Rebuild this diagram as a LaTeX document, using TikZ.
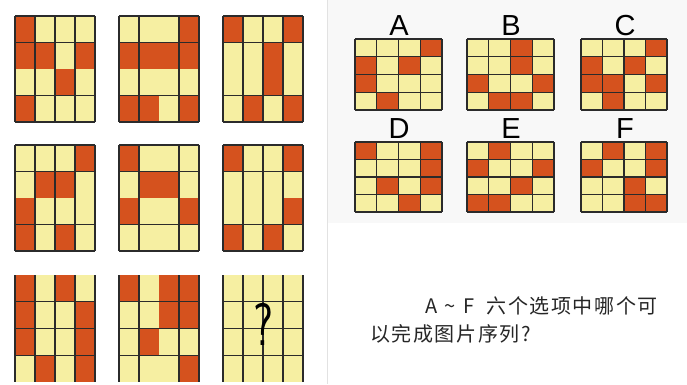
\documentclass[tikz,border=0pt]{standalone}
\usepackage{fontspec}
\newfontfamily\cjkfont[LetterSpace=8]{Noto Sans CJK SC}
\newfontfamily\labfont{Liberation Sans}
\definecolor{org}{HTML}{D5521E}
\definecolor{yel}{HTML}{F6EFA2}
\definecolor{gline}{HTML}{2B2B2B}
\definecolor{txt}{HTML}{262626}
\definecolor{panel}{HTML}{F8F8F8}
\definecolor{panelline}{HTML}{E2E2E2}
\tikzset{
  gridline/.style={draw=gline, line width=1.3pt},
  lab/.style={font=\labfont\fontsize{29}{29}\selectfont, text=black, inner sep=0pt},
  question/.style={font=\cjkfont\fontsize{20}{20}\selectfont, text=txt, inner sep=0pt},
}
\newcommand{\fillgrid}[5]{%
  \fill[yel] (#1,#2) rectangle ++({4*#3},{4*#4});
  \foreach \c/\r in {#5} {\fill[org] ({#1+\c*#3},{#2+\r*#4}) rectangle ++(#3,#4);}
}
\newcommand{\gridlines}[6]{%
  \foreach \v in {#5} {\draw[gridline] ({#1+\v*#3},#2) -- ++(0,{4*#4});}
  \foreach \h in {#6} {\draw[gridline] (#1,{#2+\h*#4}) -- ++({4*#3},0);}
}
\begin{document}
\begin{tikzpicture}[x=1pt,y=-1pt]
\useasboundingbox (0,0) rectangle (687,384);
\fill[white] (0,0) rectangle (687,384);
% options panel
\fill[panel] (327,0) rectangle (687,223);
\draw[panelline, line width=0.8pt] (327,0) -- (327,384);
% ---- left 3x3 puzzle ----
% row 1
\fillgrid{15}{16}{20}{26.5}{0/0,0/1,1/1,3/1,2/2,0/3}
\gridlines{15}{16}{20}{26.5}{0,1,2,3,4}{0,1,3,4}
\fillgrid{119}{16}{20}{26.5}{3/0,0/1,1/1,2/1,3/1,0/3,1/3,3/3}
\gridlines{119}{16}{20}{26.5}{0,1,3,4}{0,1,3,4}
\fillgrid{223}{16}{20}{26.5}{0/0,3/0,2/1,2/2,1/3,3/3}
\gridlines{223}{16}{20}{26.5}{0,1,2,3,4}{0,1,3,4}
% row 2
\fillgrid{15}{145}{20}{26.5}{3/0,1/1,2/1,0/2,0/3,2/3}
\gridlines{15}{145}{20}{26.5}{0,1,2,3,4}{0,1,3,4}
\fillgrid{119}{145}{20}{26.5}{0/0,1/1,2/1,0/2,3/2}
\gridlines{119}{145}{20}{26.5}{0,1,3,4}{0,1,3,4}
\fillgrid{223}{145}{20}{26.5}{0/0,3/0,3/2,0/3,2/3}
\gridlines{223}{145}{20}{26.5}{0,1,2,3,4}{0,1,3,4}
% row 3
\fillgrid{15}{275}{20}{26.75}{0/0,2/0,0/1,3/1,0/2,3/2,1/3,3/3}
\gridlines{15}{275}{20}{26.75}{0,1,2,3,4}{1,2,3}
\fillgrid{119}{275}{20}{26.75}{0/0,2/0,3/0,2/1,3/1,1/2,3/3}
\gridlines{119}{275}{20}{26.75}{0,1,3,4}{1,2,3}
\fill[yel] (223,275) rectangle ++(80,107);
\gridlines{223}{275}{20}{26.75}{0,1,2,3,4}{1,2,3}
\node[font=\sffamily\fontsize{60}{60}\selectfont, xscale=0.75, inner sep=0pt] (qmark) at (263,324) {?};
% ---- options ----
\fillgrid{355}{39}{21.75}{17.75}{3/0,0/1,2/1,0/2,1/3}
\gridlines{355}{39}{21.75}{17.75}{0,1,2,3,4}{0,1,2,3,4}
\fillgrid{467}{39}{21.75}{17.75}{2/0,2/1,0/2,3/2,1/3,2/3}
\gridlines{467}{39}{21.75}{17.75}{0,1,2,3,4}{0,1,2,3,4}
\fillgrid{581}{39}{21.5}{17.75}{3/0,0/1,2/1,0/2,1/2,3/2,1/3}
\gridlines{581}{39}{21.5}{17.75}{0,1,2,3,4}{0,1,2,3,4}
\fillgrid{355}{142}{21.75}{17.5}{0/0,3/0,3/1,1/2,3/2,2/3}
\gridlines{355}{142}{21.75}{17.5}{0,1,2,3,4}{0,1,2,3,4}
\fillgrid{467}{142}{21.75}{17.5}{1/0,0/1,3/1,2/2,0/3,1/3}
\gridlines{467}{142}{21.75}{17.5}{0,1,2,3,4}{0,1,2,3,4}
\fillgrid{581}{142}{21.5}{17.5}{1/0,3/0,0/1,3/1,2/2,2/3,3/3}
\gridlines{581}{142}{21.5}{17.5}{0,1,2,3,4}{0,1,2,3,4}
\node[lab, anchor=base] (labA) at (399,35) {A};
\node[lab, anchor=base] (labB) at (511,35) {B};
\node[lab, anchor=base] (labC) at (625,35) {C};
\node[lab, anchor=base] (labD) at (399,138) {D};
\node[lab, anchor=base] (labE) at (511,138) {E};
\node[lab, anchor=base] (labF) at (625,138) {F};
% ---- question text ----
\node[question, anchor=base west] (line1) at (425,313) {A\hspace{7pt}\char"7E\hspace{8pt}F\hspace{12pt}六个选项中哪个可};
\node[question, anchor=base west] (line2) at (370,341) {以完成图片序列?};
\end{tikzpicture}
\end{document}
